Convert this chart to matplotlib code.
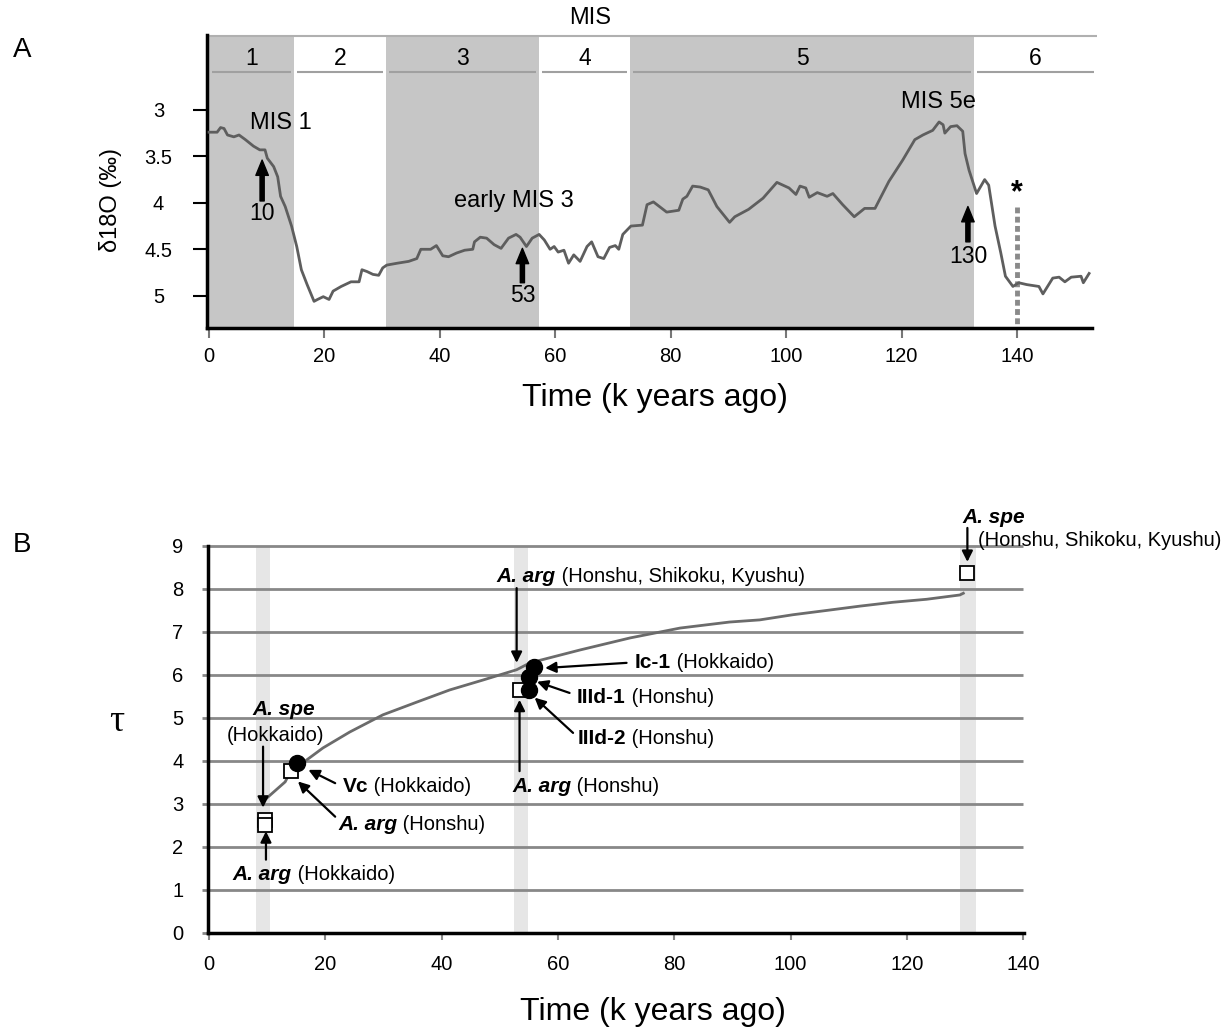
"""Benthic d18O record (A) and coalescent time scale tau vs. time (B)."""

import matplotlib

matplotlib.use("Agg")
from matplotlib import pyplot as plt
from matplotlib.offsetbox import AnnotationBbox, HPacker, TextArea

plt.rcParams["font.family"] = ["Liberation Sans", "DejaVu Sans"]

# panel A: d18O stack (k years ago, per mil)
age_ka = [
    0, 1.4, 2.0, 2.6, 3.2, 4.3, 5.2, 6.3, 7.7, 8.8,
    9.7, 10.1, 11.2, 11.9, 12.4, 13.2, 14.3, 15.2, 16.0, 17.0,
    18.2, 18.8, 19.8, 20.8, 21.5, 22.9, 24.6, 26.0, 26.5, 27.4,
    28.4, 29.4, 30.1, 30.8, 32.6, 34.6, 36.0, 36.7, 38.4, 39.4,
    40.5, 41.5, 42.9, 44.3, 45.7, 46.0, 47.0, 48.1, 49.4, 50.6,
    51.9, 53.2, 53.9, 55.0, 56.0, 57.2, 58.1, 59.1, 59.8, 60.5,
    61.5, 62.3, 63.2, 64.3, 65.5, 66.3, 67.4, 68.4, 69.4, 70.4,
    71.0, 71.7, 73.1, 75.1, 75.9, 77.0, 79.3, 81.4, 82.1, 82.8,
    83.8, 85.1, 86.5, 88.0, 90.2, 91.1, 93.5, 96.0, 98.4, 100.5,
    101.7, 102.4, 103.4, 104.0, 105.4, 107.1, 108.1, 109.8, 111.8, 113.6,
    115.4, 117.8, 120.2, 122.3, 123.7, 125.4, 126.5, 127.2, 127.5, 128.5,
    129.6, 130.6, 131.0, 131.7, 133.0, 134.4, 135.1, 136.2, 137.2, 138.0,
    139.3, 140.3, 141.7, 143.8, 144.5, 146.2, 147.3, 148.3, 149.4, 151.1,
    151.5, 152.5,
]
d18o = [
    3.24, 3.24, 3.19, 3.20, 3.27, 3.29, 3.27, 3.32, 3.39, 3.43,
    3.43, 3.52, 3.61, 3.72, 3.93, 4.04, 4.25, 4.47, 4.72, 4.88,
    5.06, 5.04, 5.01, 5.04, 4.95, 4.90, 4.85, 4.85, 4.72, 4.74,
    4.77, 4.78, 4.70, 4.67, 4.65, 4.63, 4.60, 4.50, 4.50, 4.46,
    4.57, 4.58, 4.54, 4.51, 4.50, 4.42, 4.37, 4.38, 4.45, 4.49,
    4.38, 4.34, 4.37, 4.47, 4.38, 4.34, 4.40, 4.50, 4.47, 4.53,
    4.51, 4.65, 4.56, 4.63, 4.47, 4.42, 4.58, 4.60, 4.48, 4.46,
    4.50, 4.34, 4.25, 4.24, 4.02, 3.99, 4.10, 4.08, 3.96, 3.93,
    3.82, 3.83, 3.86, 4.04, 4.21, 4.15, 4.07, 3.95, 3.78, 3.84,
    3.91, 3.82, 3.84, 3.94, 3.89, 3.93, 3.90, 4.02, 4.15, 4.06,
    4.06, 3.77, 3.54, 3.32, 3.27, 3.22, 3.13, 3.16, 3.25, 3.18,
    3.17, 3.23, 3.47, 3.65, 3.90, 3.75, 3.81, 4.25, 4.54, 4.79,
    4.90, 4.86, 4.88, 4.90, 4.98, 4.81, 4.80, 4.85, 4.80, 4.79,
    4.86, 4.76,
]

mis_edges = [0, 14.7, 30.6, 57.2, 73.0, 132.5, 153.8]
mis_labels = ["1", "2", "3", "4", "5", "6"]
mis_shaded = [True, False, True, False, True, False]

# panel B: tau against time
tau_time = [
    10.0, 13.1, 13.9, 16.8, 19.6, 24.2, 29.9, 35.8, 41.4, 47.1,
    52.9, 55.2, 63.8, 72.4, 81.0, 89.5, 94.7, 100.4, 106.2, 111.9,
    117.6, 123.4, 129.1, 129.7,
]
tau_value = [
    3.14, 3.51, 3.72, 4.02, 4.30, 4.67, 5.07, 5.37, 5.65, 5.88,
    6.12, 6.28, 6.58, 6.86, 7.09, 7.23, 7.28, 7.40, 7.50, 7.60,
    7.69, 7.76, 7.86, 7.90,
]
square_time = [9.6, 9.6, 14.1, 53.4, 130.4]
square_tau = [2.63, 2.50, 3.77, 5.65, 8.37]
dot_time = [15.2, 55.8, 55.0, 55.1]
dot_tau = [3.94, 6.19, 5.96, 5.66]
band_ranges = [(8.1, 10.5), (52.5, 54.9), (129.1, 131.8)]


def rich_label(ax, x, y, bold, rest, italic=True):
    """Bold (italic) name followed by plain text, left/centre anchored."""
    parts = [
        TextArea(bold, textprops=dict(fontsize=15, fontweight="bold",
                                      fontstyle="italic" if italic else "normal")),
        TextArea(rest, textprops=dict(fontsize=14.5)),
    ]
    box = HPacker(children=parts, align="baseline", pad=0, sep=0)
    ab = AnnotationBbox(box, (x, y), xycoords="data", frameon=False,
                        box_alignment=(0, 0.5), pad=0, annotation_clip=False)
    ax.add_artist(ab)


def thin_arrow(ax, tail, tip):
    ax.annotate("", xy=tip, xytext=tail, annotation_clip=False,
                arrowprops=dict(arrowstyle="-|>", color="black", lw=1.6,
                                mutation_scale=16, shrinkA=0, shrinkB=0))


def fat_arrow(ax, x, tail, tip, label, label_y):
    ax.annotate("", xy=(x, tip), xytext=(x, tail),
                arrowprops=dict(facecolor="black", edgecolor="black", width=3,
                                headwidth=9, headlength=11, shrink=0))
    ax.text(x, label_y, label, fontsize=16.5, ha="center", va="center")


fig = plt.figure(figsize=(12.28, 10.31), dpi=100)

# ---------------- panel A ----------------
axA = fig.add_axes([207 / 1228, 1 - 328 / 1031, 885 / 1228, 293 / 1031])
axA.set_xlim(-0.35, 153.0)
axA.set_ylim(5.347, 2.194)

for lo, hi, lab, shaded in zip(mis_edges[:-1], mis_edges[1:], mis_labels, mis_shaded):
    if shaded:
        axA.axvspan(lo, hi, color="#c6c6c6", lw=0, zorder=0)
    axA.hlines(2.588, lo + 0.5, hi - 0.5, colors="#a0a0a0", lw=1.5, clip_on=False)
    axA.text((lo + hi) / 2, 2.444, lab, fontsize=16.5, ha="center", va="center")
axA.hlines(2.204, mis_edges[0], mis_edges[-1], colors="#b0b0b0", lw=1.5, clip_on=False)

axA.plot(age_ka, d18o, color="#5e5e5e", lw=2, zorder=3)
axA.vlines(140, 4.04, 5.347, colors="#8a8a8a", lw=3.5, linestyles=(0, (1.2, 0.7)),
           zorder=2)

axA.text(7.1, 3.14, "MIS 1", fontsize=17, ha="left", va="center")
axA.text(52.9, 3.975, "early MIS 3", fontsize=17, ha="center", va="center")
axA.text(126.4, 2.91, "MIS 5e", fontsize=17, ha="center", va="center")
axA.text(140, 3.9, "*", fontsize=22, fontweight="bold", ha="center", va="center")
fat_arrow(axA, 9.2, 3.98, 3.54, "10", 4.11)
fat_arrow(axA, 54.3, 4.86, 4.49, "53", 5.0)
fat_arrow(axA, 131.5, 4.42, 4.04, "130", 4.58)

axA.set_xticks(range(0, 141, 20))
axA.set_yticks([3, 3.5, 4, 4.5, 5])
axA.set_yticklabels(["3", "3.5", "4", "4.5", "5"])
for lab in axA.get_yticklabels():
    lab.set_horizontalalignment("center")
axA.tick_params(axis="y", length=10, width=1.5, color="black", labelsize=14.5, pad=25)
axA.tick_params(axis="x", length=7, width=1.5, color="#777777", labelsize=14.5, pad=7)
for side in ["top", "right"]:
    axA.spines[side].set_visible(False)
for side in ["left", "bottom"]:
    axA.spines[side].set_linewidth(2.5)
    axA.spines[side].set_color("black")
axA.spines["bottom"].set_zorder(4)

# ---------------- panel B ----------------
axB = fig.add_axes([207.8 / 1228, 1 - 932.7 / 1031, 816 / 1228, 388 / 1031])
axB.set_xlim(-0.2, 140.1)
axB.set_ylim(0, 9.03)

for lo, hi in band_ranges:
    axB.axvspan(lo, hi, ymax=9 / 9.03, color="#e6e6e6", lw=0, zorder=0)
axB.hlines(range(1, 10), 0, 140, colors="#888888", lw=2, zorder=1)

axB.plot(tau_time, tau_value, color="#6b6b6b", lw=2, zorder=2)
axB.plot(square_time, square_tau, "s", ms=10, mfc="white", mec="black", mew=1.3,
         ls="none", zorder=3)
axB.plot(dot_time, dot_tau, "o", ms=11.5, color="black", ls="none", zorder=4)

# left cluster
axB.text(12.9, 5.19, "A. spe", fontsize=15, fontweight="bold", fontstyle="italic",
         ha="center", va="center")
axB.text(11.4, 4.60, "(Hokkaido)", fontsize=14.5, ha="center", va="center")
thin_arrow(axB, (9.3, 4.33), (9.3, 2.91))
rich_label(axB, 4.1, 1.35, "A. arg", " (Hokkaido)")
thin_arrow(axB, (9.8, 1.70), (9.8, 2.36))
rich_label(axB, 23.0, 3.40, "Vc", " (Hokkaido)", italic=False)
thin_arrow(axB, (21.7, 3.48), (17.1, 3.79))
rich_label(axB, 22.2, 2.51, "A. arg", " (Honshu)")
thin_arrow(axB, (21.7, 2.70), (15.3, 3.52))

# middle cluster
rich_label(axB, 49.5, 8.30, "A. arg", " (Honshu, Shikoku, Kyushu)")
thin_arrow(axB, (52.9, 8.02), (52.9, 6.28))
rich_label(axB, 73.2, 6.28, "Ic-1", " (Hokkaido)", italic=False)
thin_arrow(axB, (71.8, 6.28), (57.8, 6.16))
rich_label(axB, 63.3, 5.47, "IIId-1", " (Honshu)", italic=False)
thin_arrow(axB, (62.0, 5.58), (56.4, 5.84))
rich_label(axB, 63.4, 4.53, "IIId-2", " (Honshu)", italic=False)
thin_arrow(axB, (62.6, 4.65), (56.0, 5.47))
rich_label(axB, 52.1, 3.40, "A. arg", " (Honshu)")
thin_arrow(axB, (53.4, 3.76), (53.4, 5.42))

# right
axB.text(129.6, 9.67, "A. spe", fontsize=15, fontweight="bold", fontstyle="italic",
         ha="left", va="center")
axB.text(132.2, 9.12, "(Honshu, Shikoku, Kyushu)", fontsize=14.5, ha="left",
         va="center")
thin_arrow(axB, (130.4, 9.42), (130.4, 8.63))

axB.set_xticks(range(0, 141, 20))
axB.set_yticks(range(0, 10))
axB.tick_params(axis="y", length=4.5, width=2, color="#888888", labelsize=14.5, pad=13)
axB.tick_params(axis="x", length=5, width=1.5, color="#888888", labelsize=14.5, pad=11)
for side in ["top", "right"]:
    axB.spines[side].set_visible(False)
for side in ["left", "bottom"]:
    axB.spines[side].set_linewidth(2.5)
    axB.spines[side].set_color("black")
axB.spines["left"].set_bounds(0, 9)

# figure-level labels
fig.text(22 / 1228, 1 - 50 / 1031, "A", fontsize=20, ha="center", va="center")
fig.text(22 / 1228, 1 - 545 / 1031, "B", fontsize=20, ha="center", va="center")
fig.text(590 / 1228, 1 - 18 / 1031, "MIS", fontsize=17, ha="center", va="center")
fig.text(111 / 1228, 1 - 200 / 1031, "δ18O (‰)", fontsize=17, rotation=90,
         ha="center", va="center")
fig.text(117 / 1228, 1 - 722 / 1031, "τ", fontsize=27, family="Liberation Serif",
         ha="center", va="center")
fig.text(655 / 1228, 1 - 398 / 1031, "Time (k years ago)", fontsize=23,
         ha="center", va="center")
fig.text(653 / 1228, 1 - 1012 / 1031, "Time (k years ago)", fontsize=23,
         ha="center", va="center")

fig.savefig("out.png", dpi=100)
